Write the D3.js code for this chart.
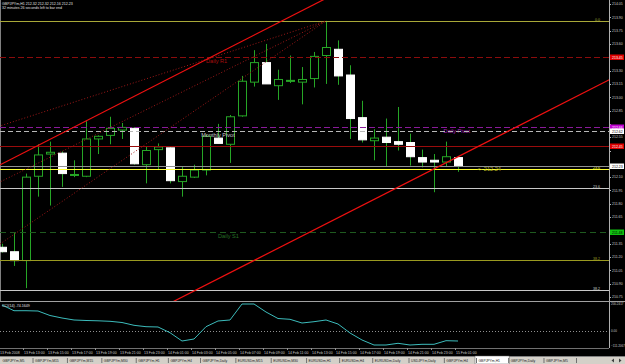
<!DOCTYPE html>
<html>
<head>
<meta charset="utf-8">
<script src="https://cdn.jsdelivr.net/npm/d3@7"></script>
<style>
    html, body { margin: 0; padding: 0; background: #000; overflow: hidden; }
    svg { display: block; }
    text { font-family: "Liberation Sans", Arial, sans-serif; }
</style>
</head>
<body>
<div id="chart"></div>
<script>
// ---- chart data ----
const chartTitle = 'GBPJPYm,H1  212.32 212.32 212.16 212.23';
const timerText = '32 minutes 26 seconds left to bar end';

const opens  = [211.31, 211.26, 211.16, 212.11, 212.36, 212.37, 212.12, 212.11, 212.53, 212.57, 212.63, 212.65, 212.24, 212.41, 212.43, 212.05, 212.10, 212.18, 212.54, 212.47, 212.79, 213.17, 213.39, 213.13, 213.18, 213.17, 213.21, 213.47, 213.54, 213.25, 212.77, 212.51, 212.55, 212.50, 212.49, 212.32, 212.29, 212.27, 212.32];
const highs  = [211.35, 211.47, 212.14, 212.47, 212.50, 212.39, 212.29, 212.73, 212.57, 212.78, 212.71, 212.66, 212.44, 212.48, 212.44, 212.22, 212.24, 212.58, 212.70, 212.80, 213.24, 213.53, 213.60, 213.31, 213.47, 213.34, 213.51, 213.86, 213.64, 213.36, 212.96, 212.64, 212.76, 212.89, 212.59, 212.41, 212.36, 212.50, 212.32];
const lows   = [211.25, 211.10, 210.85, 211.88, 211.78, 211.99, 212.10, 212.10, 212.36, 212.47, 212.53, 212.24, 212.03, 212.18, 212.03, 211.88, 212.09, 212.12, 212.48, 212.26, 212.78, 213.12, 213.15, 212.97, 213.16, 212.92, 213.11, 213.15, 213.14, 212.53, 212.49, 212.29, 212.22, 212.40, 212.23, 212.21, 211.93, 212.22, 212.16];
const closes = [211.26, 211.16, 212.10, 212.35, 212.38, 212.14, 212.13, 212.53, 212.56, 212.65, 212.66, 212.25, 212.40, 212.44, 212.06, 212.11, 212.18, 212.56, 212.48, 212.78, 213.18, 213.39, 213.15, 213.20, 213.19, 213.20, 213.46, 213.56, 213.24, 212.76, 212.52, 212.54, 212.49, 212.47, 212.33, 212.27, 212.27, 212.33, 212.23];

const cciTitle = 'CCI(14) -74.1649';
const cciValues = [192.8, 150.5, 150.5, 148.3, 114.9, 96.4, 81.6, 77.9, 75.6, 71.9, 63.0, 42.3, 31.9, 29.7, -12.6, -74.2, -59.3, 31.9, 74.2, 81.6, 200.2, 200.2, 140.9, 92.7, 86.8, 59.3, 69.0, 81.6, 51.9, -14.8, -66.7, -103.8, -103.8, -91.2, -103.8, -98.6, -98.6, -71.9, -74.2];
const cciMax = 200.2417;
const cciMin = -111.2067;

const priceTicks = [214.05, 213.90, 213.75, 213.60, 213.45, 213.30, 213.15, 213.00, 212.85, 212.70, 212.55, 212.40, 212.25, 212.10, 211.95, 211.80, 211.65, 211.50, 211.35, 211.20, 211.05, 210.90, 210.75];

const timeLabels = ['13 Feb 2008', '13 Feb 13:00', '13 Feb 15:00', '13 Feb 17:00', '13 Feb 19:00', '13 Feb 21:00', '13 Feb 23:00', '14 Feb 01:00', '14 Feb 03:00', '14 Feb 05:00', '14 Feb 07:00', '14 Feb 09:00', '14 Feb 11:00', '14 Feb 13:00', '14 Feb 15:00', '14 Feb 17:00', '14 Feb 19:00', '14 Feb 21:00', '14 Feb 23:00', '15 Feb 01:00'];

// horizontal levels
const levelNames  = ['fibTop', 'dailyR1', 'dailyPivot', 'monthlyPivot', 'redLevel', 'fibYellow', 'fibGrey1', 'dailyS1', 'fibOlive', 'fibGrey2'];
const levelPrices = [213.86, 213.45, 212.66, 212.62, 212.45, 212.19, 211.98, 211.48, 211.17, 210.83];
const levelTexts  = ['0.0', 'Daily R1', 'Daily Pivot', 'Monthly Pivot', '', '23.6', '23.6', 'Daily S1', '38.2', '38.2'];

// trend lines as [bar, price] pairs
const channelUpper = [[0, 212.25], [20, 213.63]];
const channelLower = [[30, 211.78], [38, 212.33]];
const fanLines = [
    [[-1, 212.64], [27, 213.86]],
    [[-1, 211.99], [27, 213.86]],
    [[-1, 211.27], [27, 213.86]]
];
const priceNote = '<- 212.24';

const tabNames = ['GBPJPYm,M5', 'GBPJPYm,M15', 'GBPJPYm,M15', 'GBPJPYm,M30', 'GBPJPYm,H1', 'GBPJPYm,H4', 'GBPJPYm,Daily', 'EURUSDm,M15', 'EURUSDm,M30', 'EURUSDm,H1', 'EURUSDm,H4', 'EURUSDm,Daily', 'USDJPYm,Daily', 'GBPJPYm,H4', 'GBPJPYm,H1', 'GBPJPYm,Daily', 'GBPJPYm,M5'];
const activeTab = 14;

// ---- layout ----
const W = 625, H = 364;
const axisX = 609;
const mainBottom = 301;
const indTop = 302, indBottom = 348;

const levelStyle = {
    fibTop:       { color: '#a8a838', dash: null,  label: 'fib' },
    dailyR1:      { color: '#8b0c0c', dash: '6,3', label: 'pivot', axis: '#e00000', axisText: '#fff' },
    dailyPivot:   { color: '#8a1a9a', dash: '6,3', label: 'pivot', axis: '#c000d0', axisText: '#fff' },
    monthlyPivot: { color: '#b8b8b8', dash: '5,3', label: 'pivot', axis: '#ffffff', axisText: '#000' },
    redLevel:     { color: '#9a0c0c', dash: null,  label: null,    axis: '#e00000', axisText: '#fff' },
    fibYellow:    { color: '#ffff30', dash: null,  label: 'fib' },
    fibGrey1:     { color: '#c8c8c8', dash: null,  label: 'fib' },
    dailyS1:      { color: '#1f5a1f', dash: '6,4', label: 'pivot', axis: '#10c010', axisText: '#000' },
    fibOlive:     { color: '#9a9a20', dash: null,  label: 'fib' },
    fibGrey2:     { color: '#c8c8c8', dash: null,  label: 'fib' }
};
const pivotLabelBar = { dailyR1: 17, dailyPivot: 36.8, monthlyPivot: 16.6, dailyS1: 18 };

const svg = d3.select('#chart').append('svg')
    .attr('width', W)
    .attr('height', H)
    .style('background', '#000');

const x = d3.scaleLinear().domain([0, closes.length - 1]).range([2, 2 + 12 * (closes.length - 1)]);
const y = d3.scaleLinear().domain([210.75, 214.05]).range([297, 4]);
const yInd = d3.scaleLinear().domain([cciMin, cciMax]).range([346, 304]);

const defs = svg.append('defs');
defs.append('clipPath').attr('id', 'clip-main')
    .append('rect').attr('x', 0).attr('y', 0).attr('width', axisX).attr('height', mainBottom);
defs.append('clipPath').attr('id', 'clip-ind')
    .append('rect').attr('x', 0).attr('y', indTop).attr('width', axisX).attr('height', indBottom - indTop);

const bars = closes.map((c, i) => ({ i, o: opens[i], h: highs[i], l: lows[i], c }));

function drawCandles(g) {
    const bodyW = 8;
    g.selectAll('.wick')
        .data(bars)
        .enter()
        .append('line')
        .attr('x1', d => x(d.i) + 0.5)
        .attr('x2', d => x(d.i) + 0.5)
        .attr('y1', d => y(d.h))
        .attr('y2', d => y(d.l))
        .attr('stroke', '#26a626')
        .attr('stroke-width', 1);

    g.selectAll('.body')
        .data(bars)
        .enter()
        .append('rect')
        .attr('x', d => x(d.i) - bodyW / 2 + 0.5)
        .attr('y', d => y(Math.max(d.o, d.c)))
        .attr('width', bodyW)
        .attr('height', d => Math.max(1, Math.abs(y(d.o) - y(d.c))))
        .attr('fill', d => {
            if (Math.abs(y(d.o) - y(d.c)) < 1.5) return d.c >= d.o ? '#2ec02e' : '#ffffff';
            return d.c >= d.o ? '#000000' : '#ffffff';
        })
        .attr('stroke', d => d.c >= d.o ? '#26a626' : '#ffffff')
        .attr('stroke-width', 1);
}

function drawLevels(g) {
    levelNames.forEach((name, i) => {
        const st = levelStyle[name];
        const py = Math.round(y(levelPrices[i])) + 0.5;
        g.append('line')
            .attr('x1', 0).attr('x2', axisX)
            .attr('y1', py).attr('y2', py)
            .attr('stroke', st.color)
            .attr('stroke-width', 1)
            .attr('stroke-dasharray', st.dash);

        if (st.label === 'pivot') {
            g.append('text')
                .attr('x', x(pivotLabelBar[name]))
                .attr('y', py + 5)
                .attr('font-size', 5.6)
                .attr('fill', st.color === '#b8b8b8' ? '#c8c8c8' : d3.color(st.color).brighter(0.6))
                .text(levelTexts[i]);
        } else if (st.label === 'fib') {
            g.append('text')
                .attr('x', 600)
                .attr('y', py - 0.8)
                .attr('text-anchor', 'end')
                .attr('font-size', 3.6)
                .attr('fill', st.color)
                .text(levelTexts[i]);
        }
    });

    // bid line
    const bid = Math.round(y(closes[closes.length - 1])) + 0.5;
    g.append('line')
        .attr('x1', 0).attr('x2', axisX)
        .attr('y1', bid).attr('y2', bid)
        .attr('stroke', '#909090');
}

function drawTrendLines(g) {
    const extend = (pts, b0, b1) => {
        const [[xa, ya], [xb, yb]] = pts;
        const k = (yb - ya) / (xb - xa);
        return [[b0, ya + k * (b0 - xa)], [b1, ya + k * (b1 - xa)]];
    };
    const line = d3.line().x(d => x(d[0])).y(d => y(d[1]));

    g.selectAll('.fan')
        .data(fanLines)
        .enter()
        .append('path')
        .attr('d', d => line(d))
        .attr('fill', 'none')
        .attr('stroke', '#a01818')
        .attr('stroke-width', 1)
        .attr('stroke-dasharray', '1,2');

    [channelUpper, channelLower].forEach(pts => {
        g.append('path')
            .attr('d', line(extend(pts, -2, 52)))
            .attr('fill', 'none')
            .attr('stroke', '#ee1010')
            .attr('stroke-width', 1.2);
    });

    g.append('text')
        .attr('x', x(39.6))
        .attr('y', y(212.19) + 1.8)
        .attr('font-size', 5.6)
        .attr('fill', '#b0b020')
        .text(priceNote);
}

function drawPriceAxis() {
    const g = svg.append('g');
    g.append('line')
        .attr('x1', axisX + 0.5).attr('x2', axisX + 0.5)
        .attr('y1', 0).attr('y2', indBottom)
        .attr('stroke', '#b0b0b0');

    // colored level tags on the axis
    const tags = levelNames
        .map((name, i) => ({ name, price: levelPrices[i], st: levelStyle[name] }))
        .filter(d => d.st.axis);
    tags.push({ name: 'bid', price: closes[closes.length - 1], st: { axis: '#ffffff', axisText: '#000' } });

    // tick labels hidden behind a tag are skipped
    const freeTicks = priceTicks.filter(p => tags.every(t => Math.abs(y(p) - y(t.price)) > 4.5));

    g.selectAll('.ptick')
        .data(freeTicks)
        .enter()
        .append('text')
        .attr('x', axisX + 3)
        .attr('y', d => y(d) + 1.3)
        .attr('font-size', 3.5)
        .attr('fill', '#c8c8c8')
        .text(d => d3.format('.2f')(d));

    g.selectAll('.ptickmark')
        .data(priceTicks)
        .enter()
        .append('line')
        .attr('x1', axisX).attr('x2', axisX + 2)
        .attr('y1', d => Math.round(y(d)) + 0.5)
        .attr('y2', d => Math.round(y(d)) + 0.5)
        .attr('stroke', '#b0b0b0');

    const tg = g.selectAll('.tag')
        .data(tags)
        .enter()
        .append('g')
        .attr('transform', d => `translate(${axisX + 1}, ${Math.round(y(d.price)) - 2.5})`);
    tg.append('rect')
        .attr('width', 14)
        .attr('height', 5.5)
        .attr('fill', d => d.st.axis);
    tg.append('text')
        .attr('x', 2)
        .attr('y', 4.2)
        .attr('font-size', 3.5)
        .attr('fill', d => d.st.axisText)
        .text(d => d3.format('.2f')(d.price));
}

function drawIndicator() {
    const g = svg.append('g');
    g.append('line')
        .attr('x1', 0).attr('x2', W)
        .attr('y1', mainBottom + 0.5).attr('y2', mainBottom + 0.5)
        .attr('stroke', '#a0a0a0');

    const plot = g.append('g').attr('clip-path', 'url(#clip-ind)');
    plot.append('line')
        .attr('x1', 0).attr('x2', axisX)
        .attr('y1', Math.round(yInd(0)) + 0.5).attr('y2', Math.round(yInd(0)) + 0.5)
        .attr('stroke', '#909090')
        .attr('stroke-dasharray', '1,2');

    plot.append('path')
        .datum(cciValues)
        .attr('d', d3.line().x((d, i) => x(i)).y(d => yInd(d)))
        .attr('fill', 'none')
        .attr('stroke', '#3cbcbc')
        .attr('stroke-width', 1);

    g.append('text')
        .attr('x', 2).attr('y', 306.5)
        .attr('font-size', 3.6)
        .attr('fill', '#e0e0e0')
        .text(cciTitle);

    g.selectAll('.itick')
        .data([cciMax, 0, cciMin])
        .enter()
        .append('text')
        .attr('x', axisX + 2)
        .attr('y', (d, i) => yInd(d) + (i === 2 ? 0.5 : 1.3))
        .attr('font-size', 3)
        .attr('fill', '#c8c8c8')
        .text(d => d === 0 ? '0.00' : d3.format('.4f')(d));

    g.append('line')
        .attr('x1', 0).attr('x2', axisX)
        .attr('y1', indBottom + 0.5).attr('y2', indBottom + 0.5)
        .attr('stroke', '#707070');
}

function drawTimeAxis() {
    const g = svg.append('g');
    g.selectAll('.tlabel')
        .data(timeLabels)
        .enter()
        .append('text')
        .attr('x', (d, i) => x(i * 2) - 2)
        .attr('y', 353.5)
        .attr('font-size', 3.5)
        .attr('fill', '#c8c8c8')
        .text(d => d);
    g.selectAll('.tmark')
        .data(timeLabels)
        .enter()
        .append('line')
        .attr('x1', (d, i) => x(i * 2) - 2.5)
        .attr('x2', (d, i) => x(i * 2) - 2.5)
        .attr('y1', indBottom).attr('y2', indBottom + 2)
        .attr('stroke', '#909090');
}

function drawTabs() {
    const g = svg.append('g').attr('transform', 'translate(0, 356)');
    g.append('rect')
        .attr('width', W).attr('height', 8)
        .attr('fill', '#d4d0c8');
    g.append('line')
        .attr('x1', 0).attr('x2', W).attr('y1', 0.5).attr('y2', 0.5)
        .attr('stroke', '#808080');

    const labels = g.selectAll('.tab')
        .data(tabNames)
        .enter()
        .append('text')
        .attr('y', 6)
        .attr('font-size', 3.4)
        .attr('fill', '#202020')
        .text(d => d);
    const widths = labels.nodes().map(n => n.getComputedTextLength());
    const pad = (576 - d3.sum(widths)) / tabNames.length;

    let cx = 0;
    labels.each(function(d, i) {
        const w = widths[i] + pad;
        d3.select(this).attr('x', cx + 2.5);
        if (i === activeTab) {
            g.insert('rect', 'text')
                .attr('x', cx - 1).attr('y', 0)
                .attr('width', w + 2).attr('height', 8)
                .attr('fill', '#ffffff')
                .attr('stroke', '#606060')
                .attr('stroke-width', 0.5);
        }
        g.append('line')
            .attr('x1', cx + w + 0.5).attr('x2', cx + w + 0.5)
            .attr('y1', 2).attr('y2', 7)
            .attr('stroke', '#707070');
        cx += w;
    });

    g.selectAll('.arrow')
        .data(['M614,2.5 L611.5,4.5 L614,6.5 Z', 'M619,2.5 L621.5,4.5 L619,6.5 Z'])
        .enter()
        .append('path')
        .attr('d', d => d)
        .attr('fill', '#404040');
}

// main panel
const main = svg.append('g').attr('clip-path', 'url(#clip-main)');
main.append('line')
    .attr('x1', 0.5).attr('x2', 0.5).attr('y1', 0).attr('y2', mainBottom)
    .attr('stroke', '#808080');
drawCandles(main);
drawLevels(main);
drawTrendLines(main);

svg.append('text')
    .attr('x', 2).attr('y', 4.5)
    .attr('font-size', 3.6)
    .attr('fill', '#e0e0e0')
    .text(chartTitle);
svg.append('text')
    .attr('x', 2).attr('y', 8.5)
    .attr('font-size', 3.6)
    .attr('fill', '#e0e0e0')
    .text(timerText);

drawPriceAxis();
drawIndicator();
drawTimeAxis();
drawTabs();
</script>
</body>
</html>
